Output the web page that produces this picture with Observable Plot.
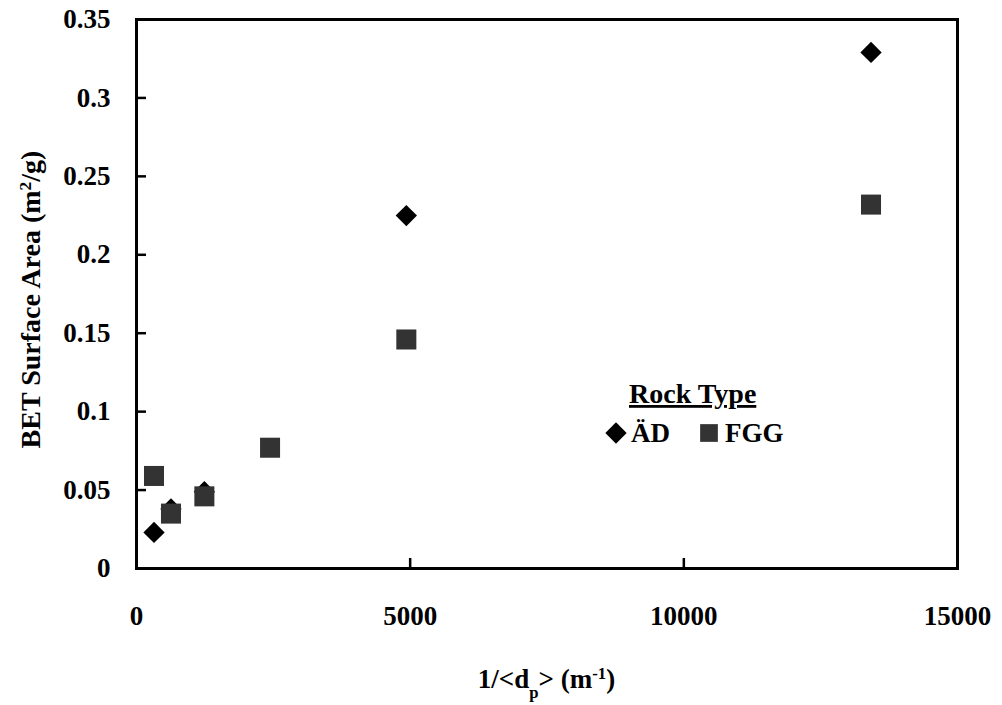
<!DOCTYPE html>
<html><head><meta charset="utf-8">
<script src="https://cdn.jsdelivr.net/npm/d3@7"></script>
<script src="https://cdn.jsdelivr.net/npm/@observablehq/plot@0.6"></script>
<style>
body{margin:0;background:#fff;}
#wrap{position:relative;width:1002px;height:705px;}
</style></head><body><div id="wrap"></div>
<script>
// ---- data ----
const adX = [320, 630, 1240, 4930, 13420];
const adY = [0.023, 0.038, 0.049, 0.225, 0.329];
const fggX = [320, 630, 1240, 2440, 4930, 13420];
const fggY = [0.059, 0.035, 0.046, 0.077, 0.146, 0.232];
const xTicks = [0, 5000, 10000, 15000];
const yTicks = [0, 0.05, 0.1, 0.15, 0.2, 0.25, 0.3, 0.35];
const seriesNames = ["ÄD", "FGG"];
const legendTitle = "Rock Type";
const yTitle = ["BET Surface Area (m", "2", "/g)"];
const xTitle = ["1/<d", "p", "> (m", "-1", ")"];

// ---- layout ----
const W = 1002, H = 705, mL = 136, mR = 45, mT = 19, mB = 137;
const plotW = W - mL - mR, plotH = H - mT - mB;
const FONT = '"Liberation Serif", "Times New Roman", serif';
const fmtX = d => String(d);
const fmtY = d => String(+d.toFixed(2));

const ad = adX.map((x, i) => ({x, y: adY[i], s: seriesNames[0]}));
const fgg = fggX.map((x, i) => ({x, y: fggY[i], s: seriesNames[1]}));

const chart = Plot.plot({
  width: W, height: H,
  marginLeft: mL, marginRight: mR, marginTop: mT, marginBottom: mB,
  style: {fontFamily: FONT, fontWeight: "bold", fontSize: "27px", background: "#fff", color: "#000"},
  x: {domain: [0, 15000]},
  y: {domain: [0, 0.35]},
  marks: [
    Plot.ruleX(xTicks.slice(1, -1), {stroke: "#000", strokeWidth: 2.5, insetTop: plotH - 10}),
    Plot.ruleY(yTicks.slice(1, -1), {stroke: "#000", strokeWidth: 2.5, insetRight: plotW - 10}),
    Plot.frame({stroke: "#000", strokeWidth: 3}),
    Plot.axisX({ticks: xTicks, tickFormat: fmtX, tickSize: 0, tickPadding: 37, label: null, fontSize: 27}),
    Plot.axisY({ticks: yTicks, tickFormat: fmtY, tickSize: 0, tickPadding: 26, label: null, fontSize: 27}),
    Plot.dot(ad, {x: "x", y: "y", symbol: "diamond2", r: 9.6, fill: "#000", stroke: null}),
    Plot.dot(fgg, {x: "x", y: "y", symbol: "square", r: 11.3, fill: "#333", stroke: null})
  ]
});
document.getElementById("wrap").appendChild(chart);

// ---- titles and legend as svg text ----
const svg = d3.select(chart);
function richText(g, parts, size) {
  const t = g.append("text").attr("font-family", FONT).attr("font-weight", "bold")
    .attr("font-size", size).attr("fill", "#000");
  parts.forEach(([str, kind]) => {
    const ts = t.append("tspan").text(str);
    if (kind === "sup") ts.attr("font-size", size * 0.62).attr("baseline-shift", "super");
    if (kind === "sub") ts.attr("font-size", size * 0.62).attr("baseline-shift", "sub");
  });
  return t;
}
// y title
const gy = svg.append("g").attr("transform", `translate(40,${mT + plotH / 2 + 6}) rotate(-90)`);
richText(gy, [[yTitle[0]], [yTitle[1], "sup"], [yTitle[2]]], 28).attr("text-anchor", "middle");
// x title
const gx = svg.append("g").attr("transform", `translate(${mL + plotW / 2},688)`);
richText(gx, [[xTitle[0]], [xTitle[1], "sub"], [xTitle[2]], [xTitle[3], "sup"], [xTitle[4]]], 27).attr("text-anchor", "middle");

// legend
const lg = svg.append("g").attr("text-anchor", "start");
lg.append("text").attr("x", 629).attr("y", 403).attr("font-family", FONT).attr("font-weight", "bold")
  .attr("font-size", 28).attr("text-decoration", "underline").text(legendTitle);
lg.append("path").attr("d", d3.symbol(d3.symbolDiamond2, Math.PI * 9.6 * 9.6)()).attr("transform", "translate(616,433)").attr("fill", "#000");
lg.append("text").attr("x", 631).attr("y", 442).attr("font-family", FONT).attr("font-weight", "bold")
  .attr("font-size", 27).text(seriesNames[0]);
lg.append("path").attr("d", d3.symbol(d3.symbolSquare, Math.PI * 10 * 10)()).attr("transform", "translate(709,433)").attr("fill", "#333");
lg.append("text").attr("x", 725).attr("y", 442).attr("font-family", FONT).attr("font-weight", "bold")
  .attr("font-size", 27).text(seriesNames[1]);
</script></body></html>
